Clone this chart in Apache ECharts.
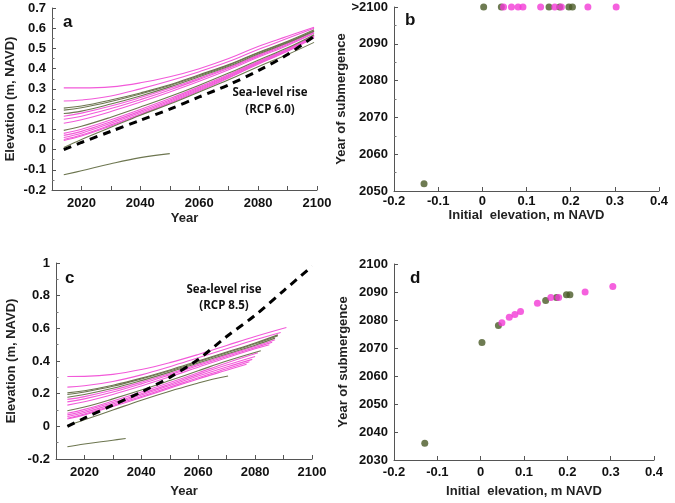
<!DOCTYPE html>
<html>
<head>
<meta charset="utf-8">
<script src="https://cdn.jsdelivr.net/npm/echarts@6/dist/echarts.min.js"></script>
<style>
html,body{margin:0;padding:0;background:#fff;}
#chart{width:675px;height:503px;}
</style>
</head>
<body>
<div id="chart"></div>
<script>
// ---------- DATA ----------
// Panel a (RCP 6.0): years of the sampled points of each marsh trajectory
const yearsA = [2014, 2020, 2030, 2040, 2050, 2060, 2070, 2080, 2090, 2099];
const yearsA_short = [2014, 2020, 2030, 2040, 2050];
const slr60 = [0, 0.035, 0.09, 0.145, 0.20, 0.26, 0.32, 0.39, 0.47, 0.56];

// site groups: 'g' = olive, 'p' = magenta
const siteGroups = ['p','p','g','g','g','p','p','p','g','p','p','p','p','p','g','g'];

const a_P1  = [0.305, 0.305, 0.31, 0.33, 0.36, 0.40, 0.45, 0.51, 0.56, 0.605];
const a_P2  = [0.24, 0.245, 0.265, 0.30, 0.34, 0.385, 0.435, 0.495, 0.55, 0.60];
const a_G1  = [0.205, 0.215, 0.245, 0.28, 0.32, 0.37, 0.42, 0.48, 0.535, 0.592];
const a_G2  = [0.195, 0.207, 0.238, 0.275, 0.317, 0.365, 0.417, 0.477, 0.532, 0.588];
const a_G3  = [0.178, 0.19, 0.225, 0.265, 0.31, 0.36, 0.412, 0.472, 0.528, 0.585];
const a_P3  = [0.165, 0.18, 0.215, 0.257, 0.303, 0.353, 0.407, 0.467, 0.524, 0.582];
const a_P4  = [0.15, 0.165, 0.203, 0.247, 0.295, 0.347, 0.402, 0.462, 0.52, 0.578];
const a_P5  = [0.13, 0.147, 0.188, 0.235, 0.285, 0.338, 0.395, 0.456, 0.515, 0.575];
const a_G4  = [0.095, 0.115, 0.16, 0.21, 0.262, 0.318, 0.378, 0.442, 0.503, 0.568];
const a_P6  = [0.08, 0.10, 0.147, 0.198, 0.252, 0.31, 0.371, 0.436, 0.498, 0.565];
const a_P7  = [0.07, 0.09, 0.138, 0.19, 0.245, 0.304, 0.366, 0.432, 0.495, 0.562];
const a_P8  = [0.06, 0.081, 0.13, 0.183, 0.239, 0.299, 0.362, 0.428, 0.492, 0.56];
const a_P9  = [0.05, 0.072, 0.122, 0.176, 0.233, 0.294, 0.358, 0.425, 0.489, 0.557];
const a_P10 = [0.045, 0.067, 0.117, 0.172, 0.229, 0.29, 0.354, 0.422, 0.486, 0.553];
const a_G5  = [0.01, 0.05, 0.11, 0.17, 0.225, 0.285, 0.345, 0.41, 0.47, 0.53];
const a_G6  = [-0.125, -0.105, -0.07, -0.04, -0.02];

// Panel c (RCP 8.5): [year, elevation]
const slr85 = [[2014,0],[2020,0.05],[2030,0.13],[2040,0.21],[2050,0.30],[2060,0.41],[2070,0.55],[2080,0.68],[2090,0.83],[2100,0.98]];
const c_P1  = [[2014,0.305],[2020,0.306],[2030,0.318],[2040,0.348],[2050,0.39],[2060,0.44],[2070,0.495],[2080,0.55],[2091,0.605]];
const c_P2  = [[2014,0.24],[2020,0.248],[2030,0.275],[2040,0.315],[2050,0.365],[2060,0.42],[2070,0.475],[2080,0.53],[2089,0.575]];
const c_G1  = [[2014,0.205],[2020,0.218],[2030,0.252],[2040,0.295],[2050,0.345],[2060,0.40],[2070,0.455],[2080,0.51],[2088,0.56]];
const c_G2  = [[2014,0.195],[2020,0.21],[2030,0.245],[2040,0.29],[2050,0.34],[2060,0.395],[2070,0.45],[2080,0.505],[2088,0.555]];
const c_G3  = [[2014,0.178],[2020,0.195],[2030,0.233],[2040,0.28],[2050,0.332],[2060,0.388],[2070,0.443],[2080,0.497],[2087,0.54]];
const c_P3  = [[2014,0.165],[2020,0.182],[2030,0.222],[2040,0.27],[2050,0.323],[2060,0.38],[2070,0.436],[2080,0.49],[2087,0.53]];
const c_P4  = [[2014,0.15],[2020,0.168],[2030,0.21],[2040,0.26],[2050,0.315],[2060,0.372],[2070,0.428],[2080,0.482],[2086,0.515]];
const c_P5  = [[2014,0.13],[2020,0.15],[2030,0.195],[2040,0.247],[2050,0.303],[2060,0.362],[2070,0.42],[2080,0.475],[2085,0.5]];
const c_G4  = [[2014,0.095],[2020,0.118],[2030,0.168],[2040,0.222],[2050,0.28],[2060,0.34],[2070,0.4],[2082,0.463]];
const c_P6  = [[2014,0.08],[2020,0.104],[2030,0.155],[2040,0.21],[2050,0.268],[2060,0.328],[2070,0.388],[2081,0.45]];
const c_P7  = [[2014,0.07],[2020,0.094],[2030,0.146],[2040,0.2],[2050,0.258],[2060,0.318],[2070,0.375],[2080,0.428]];
const c_P8  = [[2014,0.06],[2020,0.085],[2030,0.137],[2040,0.192],[2050,0.25],[2060,0.308],[2070,0.363],[2079,0.41]];
const c_P9  = [[2014,0.05],[2020,0.075],[2030,0.127],[2040,0.183],[2050,0.24],[2060,0.298],[2070,0.352],[2078,0.395]];
const c_P10 = [[2014,0.045],[2020,0.07],[2030,0.122],[2040,0.177],[2050,0.233],[2060,0.29],[2070,0.343],[2077,0.38]];
const c_G5  = [[2014,0.005],[2020,0.04],[2030,0.1],[2040,0.16],[2050,0.215],[2060,0.265],[2065,0.288],[2070.5,0.308]];
const c_G6  = [[2014,-0.125],[2020,-0.108],[2030,-0.085],[2034.5,-0.074]];

// Panel b: [initial elevation, year of submergence] (2100 means >2100)
const bGreen = [[-0.132,2052],[0.003,2100],[0.043,2100],[0.151,2100],[0.175,2100],[0.196,2100],[0.204,2100]];
const bPink  = [[0.048,2100],[0.066,2100],[0.081,2100],[0.092,2100],[0.132,2100],[0.164,2100],[0.179,2100],[0.239,2100],[0.303,2100]];
// Panel d
const dGreen = [[-0.129,2036],[0.003,2072],[0.041,2078],[0.15,2087],[0.175,2088],[0.198,2089],[0.206,2089]];
const dPink  = [[0.049,2079],[0.066,2081],[0.079,2082],[0.092,2083],[0.131,2086],[0.162,2088],[0.18,2088],[0.241,2090],[0.305,2092]];

// tick labels
const yearTicks = [2020, 2040, 2060, 2080, 2100];
const bTopLabel = '>2100';

// ---------- BUILD ----------
const PINK_LINE = '#f25ad9';
const OLIVE_LINE = '#6d7650';
const PINK_PT = '#f23ad6';
const GREEN_PT = '#4a5a27';
const FONT = '"Liberation Sans", Arial, sans-serif';

const aLines = [a_P1,a_P2,a_G1,a_G2,a_G3,a_P3,a_P4,a_P5,a_G4,a_P6,a_P7,a_P8,a_P9,a_P10,a_G5,a_G6];
const cLines = [c_P1,c_P2,c_G1,c_G2,c_G3,c_P3,c_P4,c_P5,c_G4,c_P6,c_P7,c_P8,c_P9,c_P10,c_G5,c_G6];

function zipYears(vals){
  const yrs = vals.length === yearsA.length ? yearsA : yearsA_short;
  return vals.map((v,i)=>[yrs[i], v]);
}

const series = [];
function addLines(lines, gi){
  ['p','g'].forEach(grp=>{
    lines.forEach((ln, i)=>{
      if (siteGroups[i] !== grp) return;
      series.push({
        type:'line', xAxisIndex:gi, yAxisIndex:gi,
        data: gi === 0 ? zipYears(ln) : ln,
        smooth: 0.4, showSymbol:false, silent:true,
        lineStyle:{width:1.1, color: grp==='p' ? PINK_LINE : OLIVE_LINE},
        z: grp==='p' ? 2 : 3
      });
    });
  });
}
addLines(aLines, 0);
addLines(cLines, 2);

series.push({type:'line', xAxisIndex:0, yAxisIndex:0, data: slr60.map((v,i)=>[yearsA[i],v]),
  smooth:0.3, showSymbol:false, lineStyle:{width:3, color:'#000', type:[8,6]}, z:5});
series.push({type:'line', xAxisIndex:2, yAxisIndex:2, data: slr85,
  smooth:0.3, showSymbol:false, lineStyle:{width:3, color:'#000', type:[8,6]}, z:5});

series.push({type:'scatter', xAxisIndex:1, yAxisIndex:1, data:bGreen, symbolSize:7, itemStyle:{color:GREEN_PT}, z:4});
series.push({type:'scatter', xAxisIndex:1, yAxisIndex:1, data:bPink, symbolSize:7, itemStyle:{color:PINK_PT}, z:5});
series.push({type:'scatter', xAxisIndex:3, yAxisIndex:3, data:dGreen, symbolSize:7, itemStyle:{color:GREEN_PT}, z:4});
series.push({type:'scatter', xAxisIndex:3, yAxisIndex:3, data:dPink, symbolSize:7, itemStyle:{color:PINK_PT}, z:5});

const axisLine = {show:true, onZero:false, lineStyle:{color:'#555', width:1}};
const axisLabel = {color:'#111', fontFamily:FONT, fontWeight:'bold', fontSize:13};
const nameStyle = {color:'#222', fontFamily:FONT, fontWeight:'bold', fontSize:13};
const tick = {show:true, inside:true, length:4, lineStyle:{color:'#555'}};
const minorTick = {show:true, splitNumber:2, length:2.5, lineStyle:{color:'#777'}};

function yearAxis(gi, gap){
  return {
    type:'value', gridIndex:gi, min:2010, max:2100, interval:10,
    name:'Year', nameLocation:'middle', nameGap:gap, nameTextStyle:nameStyle,
    axisLine, axisTick:tick, splitLine:{show:false},
    axisLabel: Object.assign({}, axisLabel, {margin:7,
      formatter: v => yearTicks.indexOf(v) >= 0 ? String(v) : ''})
  };
}
function elevAxis(gi, min, max, step, gap){
  return {
    type:'value', gridIndex:gi, min, max, interval:step,
    name:'Elevation (m, NAVD)', nameLocation:'middle', nameGap:gap, nameTextStyle:nameStyle,
    axisLine, axisTick:tick, minorTick: Object.assign({}, minorTick, {show:true, inside:true}),
    splitLine:{show:false}, minorSplitLine:{show:false},
    axisLabel: Object.assign({}, axisLabel, {margin:6, formatter: v => String(+v.toFixed(1))})
  };
}
function initAxis(gi, gap, margin){
  return {
    type:'value', gridIndex:gi, min:-0.2, max:0.4, interval:0.1,
    name:'Initial  elevation, m NAVD', nameLocation:'middle', nameGap:gap, nameTextStyle:nameStyle,
    axisLine, axisTick:tick, splitLine:{show:false},
    axisLabel: Object.assign({}, axisLabel, {margin, formatter: v => String(+v.toFixed(1))})
  };
}
function subAxis(gi, min, gap, minor, topLabel){
  return {
    type:'value', gridIndex:gi, min, max:2100, interval:10,
    name:'Year of submergence', nameLocation:'middle', nameGap:gap, nameTextStyle:nameStyle,
    axisLine, axisTick:tick, splitLine:{show:false},
    minorTick: minor ? Object.assign({}, minorTick, {inside:true}) : {show:false},
    minorSplitLine:{show:false},
    axisLabel: Object.assign({}, axisLabel, {margin:6,
      formatter: v => (v === 2100 && topLabel) ? topLabel : String(v)})
  };
}

const annFont = 'bold 11.5px "Open Sans", sans-serif';
const option = {
  animation:false,
  backgroundColor:'#fff',
  grid:[
    {left:52, top:8, width:265, height:182},
    {left:394, top:7, width:265, height:184},
    {left:56, top:263, width:256, height:196},
    {left:394, top:264, width:260, height:196}
  ],
  xAxis:[yearAxis(0, 22), initAxis(1, 14, 4), yearAxis(2, 26), initAxis(3, 25, 6)],
  yAxis:[
    elevAxis(0, -0.2, 0.7, 0.1, 35),
    subAxis(1, 2050, 44, true, bTopLabel),
    elevAxis(2, -0.2, 1, 0.2, 38),
    subAxis(3, 2030, 44, false, null)
  ],
  series,
  graphic:[
    {type:'text', left:63, top:14, style:{text:'a', font:'bold 17px '+FONT, fill:'#111'}},
    {type:'text', left:405, top:12, style:{text:'b', font:'bold 17px '+FONT, fill:'#111'}},
    {type:'text', left:65, top:270, style:{text:'c', font:'bold 17px '+FONT, fill:'#111'}},
    {type:'text', left:410, top:270, style:{text:'d', font:'bold 17px '+FONT, fill:'#111'}},
    {type:'text', x:270, y:93, style:{text:'Sea-level rise', font:annFont, fill:'#111', align:'center', verticalAlign:'middle'}},
    {type:'text', x:270, y:110, style:{text:'(RCP 6.0)', font:annFont, fill:'#111', align:'center', verticalAlign:'middle'}},
    {type:'text', x:224, y:290, style:{text:'Sea-level rise', font:annFont, fill:'#111', align:'center', verticalAlign:'middle'}},
    {type:'text', x:224, y:306, style:{text:'(RCP 8.5)', font:annFont, fill:'#111', align:'center', verticalAlign:'middle'}}
  ]
};

const chart = echarts.init(document.getElementById('chart'), null, {renderer:'canvas'});
chart.setOption(option);
</script>
</body>
</html>
